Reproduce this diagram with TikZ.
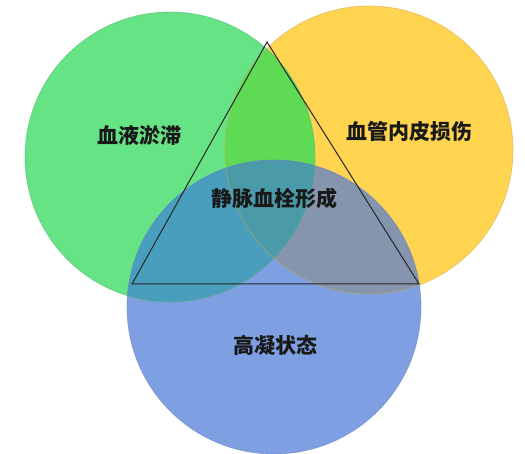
\documentclass[tikz,border=0pt]{standalone}
\usepackage{fontspec}
\newfontfamily\cjk{Noto Sans CJK SC}
\definecolor{cgreen}{HTML}{66E385}
\definecolor{cyellow}{HTML}{FFD451}
\definecolor{cblue}{HTML}{7EA0E2}
\definecolor{cgy}{HTML}{5EDA55}
\definecolor{cgb}{HTML}{4A9EBD}
\definecolor{cyb}{HTML}{8595AE}
\definecolor{cgyb}{HTML}{4B9AA9}
\begin{document}
\begin{tikzpicture}[x=1pt,y=-1pt,
  lbl/.style={font=\cjk\bfseries\fontsize{21}{24}\selectfont, text=black!90, inner sep=0pt},
  rim/.style={line width=0.8pt, draw opacity=0.5}]
\useasboundingbox (0,0) rectangle (525,454);
\coordinate (G) at (170,157);
\coordinate (Y) at (369,150);
\coordinate (B) at (274,307);
\def\rg{145}\def\ry{144}\def\rb{147}
% base circles
\fill[cyellow] (Y) circle (\ry);
\fill[cgreen] (G) circle (\rg);
\fill[cblue] (B) circle (\rb);
% overlaps
\begin{scope}\clip (G) circle (\rg); \fill[cgy] (Y) circle (\ry); \fill[cgb] (B) circle (\rb);\end{scope}
\begin{scope}\clip (Y) circle (\ry); \fill[cyb] (B) circle (\rb);
  \clip (G) circle (\rg); \fill[cgyb] (B) circle (\rb);\end{scope}
% rims
\draw[rim, draw=cyellow!80!black] (Y) circle (\ry);
\draw[rim, draw=cgreen!80!black] (G) circle (\rg);
\draw[rim, draw=cblue!80!black] (B) circle (\rb);
% triangle
\coordinate (T) at (267,42);
\coordinate (L) at (132,284);
\coordinate (R) at (419,284);
\draw[line width=1pt, black!85] (T) -- (L) -- (R) -- cycle;
% labels
\node[lbl] (n1) at (139,135) {血液淤滞};
\node[lbl] (n2) at (409,131) {血管内皮损伤};
\node[lbl] (n3) at (274,199) {静脉血栓形成};
\node[lbl] (n4) at (275,345) {高凝状态};
\end{tikzpicture}
\end{document}
